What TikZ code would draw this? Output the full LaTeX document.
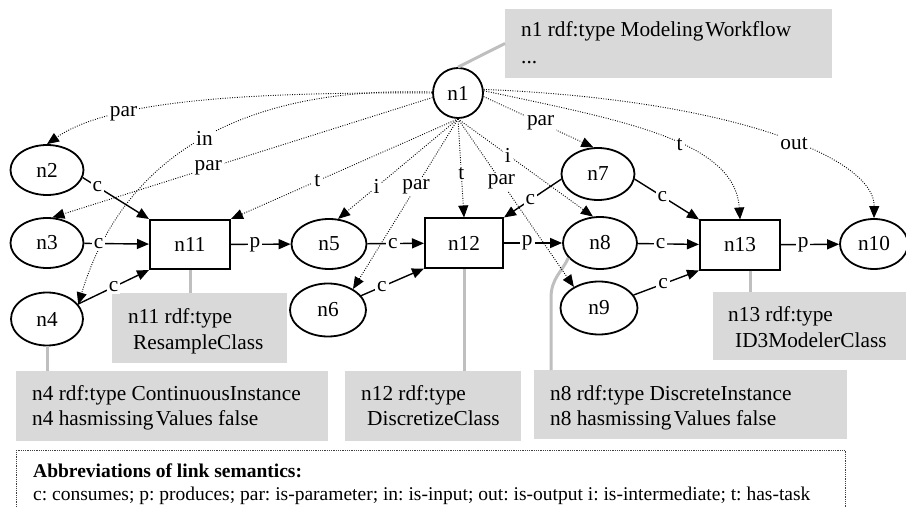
\documentclass[tikz,border=0pt]{standalone}
\usepackage{fontspec}
\setmainfont{Liberation Serif}
\usetikzlibrary{arrows.meta,shapes.geometric}
\frenchspacing

\begin{document}
\begin{tikzpicture}[x=1pt,y=-1pt,
  font=\fontsize{21.3}{26}\selectfont,
  ell/.style={ellipse, draw, line width=1.8pt, inner sep=0pt,
    minimum width=73pt, minimum height=50pt},
  task/.style={rectangle, draw, line width=2pt, inner sep=0pt,
    minimum width=80pt, minimum height=49pt},
  gbox/.style={fill=black!15, inner sep=0pt, outer sep=0pt, anchor=north west},
  gtext/.style={anchor=base west, inner sep=0pt},
  glink/.style={draw=black!25, line width=3pt},
  tip/.style={-{Triangle[length=12pt,width=10pt]}},
  flow/.style={tip, line width=1.4pt},
  sem/.style={tip, line width=0.9pt, dash pattern=on 0.9pt off 1.5pt},
  lbl/.style={fill=white, inner sep=2pt},
  legendfont/.style={font=\fontsize{19.5}{24}\selectfont}]

\useasboundingbox (0,0) rectangle (906,508);
\clip (0,0) rectangle (906,508);

% annotation boxes
\node[gbox, minimum width=327pt, minimum height=69pt] (b1) at (505,9) {};
\node[gbox, minimum width=175pt, minimum height=70pt] (b11) at (112,293) {};
\node[gbox, minimum width=312pt, minimum height=70pt] (b4) at (16,371) {};
\node[gbox, minimum width=176pt, minimum height=70pt] (b12) at (345,371) {};
\node[gbox, minimum width=313pt, minimum height=69pt] (b8) at (534,370) {};
\node[gbox, minimum width=200pt, minimum height=68pt] (b13) at (713,292) {};

\node[gtext] (t1a) at (521,37) {n1 rdf:type Modeling\kern2pt Workflow};
\node[gtext] (t1b) at (521,64) {...};
\node[gtext] (t11a) at (128,323) {n11 rdf:type};
\node[gtext] (t11b) at (133,349) {ResampleClass};
\node[gtext] (t4a) at (32,400) {n4 rdf:type ContinuousInstance};
\node[gtext] (t4b) at (32,425) {n4 hasmissing\kern2.5pt Values false};
\node[gtext] (t12a) at (361,400) {n12 rdf:type};
\node[gtext] (t12b) at (367,425) {DiscretizeClass};
\node[gtext] (t8a) at (550,400) {n8 rdf:type DiscreteInstance};
\node[gtext] (t8b) at (550,425) {n8 hasmissing\kern2.5pt Values false};
\node[gtext] (t13a) at (728,321) {n13 rdf:type};
\node[gtext] (t13b) at (735,347) {ID3ModelerClass};

% legend
\node[draw=black!75, line width=0.8pt, dash pattern=on 0.8pt off 1pt,
  anchor=north west, inner sep=0pt, minimum width=829pt, minimum height=90pt]
  (legend) at (16,450) {};
\node[gtext, legendfont] (lh) at (33,477) {\bfseries Abbreviations of link semantics:};
\node[gtext, legendfont] (lt) at (33,500)
  {c: consumes; p: produces; par: is-parameter; in: is-input; out: is-output i: is-intermediate; t: has-task};

% graph nodes
\node[ell, minimum width=50pt, minimum height=50pt] (n1) at (458,93) {n1};
\node[ell] (n2) at (47,170) {n2};
\node[ell] (n3) at (47,243) {n3};
\node[ell, minimum width=72pt, minimum height=53pt] (n4) at (47,319) {n4};
\node[task] (n11) at (190,244.5) {n11};
\node[ell, minimum width=75pt] (n5) at (329,244) {n5};
\node[ell, minimum width=76pt, minimum height=53pt] (n6) at (328,310) {n6};
\node[task, minimum width=78pt] (n12) at (464,243) {n12};
\node[ell, minimum height=52pt] (n7) at (598,174) {n7};
\node[ell, minimum width=74pt, minimum height=52pt] (n8) at (600,243) {n8};
\node[ell, minimum width=77pt, minimum height=53pt] (n9) at (599,308) {n9};
\node[task] (n13) at (740,245) {n13};
\node[ell, minimum width=68pt] (n10) at (874,244) {n10};

% annotation links
\draw[glink] (b1.west) -- (n1.north);
\draw[glink] (n11.south) -- (n11.south |- b11.north);
\draw[glink] (n4.south) -- (n4.south |- b4.north);
\draw[glink] (n12.south) -- (n12.south |- b12.north);
\draw[glink] ([xshift=10pt]n13.south) -- ([xshift=10pt]n13.south |- b13.north);
\coordinate (l8) at ([xshift=17pt]b8.north west);
\draw[glink] (l8) -- ++(0,-72) .. controls +(0,-20) and +(-6,14) .. (n8.205);

% semantic links from the workflow node
\draw[sem] (n1.180) .. controls (250,92) and (110,100) .. (n2.north)
  node[lbl, pos=0.7] (s2) {par};
\draw[sem] (n1.178) .. controls (250,86) and (125,150) .. (n4.25)
  node[lbl, pos=0.5] (s4) {in};
\draw[sem] (n1.190) -- (n3.78) node[lbl, pos=0.59] (s3) {par};
\draw[sem] (n1.south) -- (n11.north east) node[lbl, pos=0.62] (s11) {t};
\draw[sem] (n1.south) -- (n5.70) node[lbl, pos=0.68] (s5) {i};
\draw[sem] (n1.south) -- (n6.40) node[lbl, pos=0.4] (s6) {par};
\draw[sem] (n1.south) -- (n12.north) node[lbl, pos=0.55] (s12) {t};
\draw[sem] (n1.south) -- (n9.140) node[lbl, pos=0.375] (s9) {par};
\draw[sem] (n1.south) -- (n8.105) node[lbl, pos=0.37] (s8) {i};
\draw[sem] (n1.-8) -- (n7.100) node[lbl, pos=0.52] (s7) {par};
\draw[sem] (n1.5) .. controls (620,120) and (735,140) .. (n13.north)
  node[lbl, pos=0.57] (s13) {t};
\draw[sem] (n1.8) .. controls (740,100) and (875,160) .. (n10.north)
  node[lbl, pos=0.55] (s10) {out};

% data flow
\draw[flow] (n2.-12) -- (n11.north west) node[lbl, pos=0.22] (f1) {c};
\draw[flow] (n3) -- (n11) node[lbl, pos=0.22] (f2) {c};
\draw[flow] (n4) -- (n11.south west) node[lbl, pos=0.5] (f3) {c};
\draw[flow] (n11) -- (n5) node[lbl, pos=0.4] (f4) {p};
\draw[flow] (n5) -- (n12) node[lbl, pos=0.45] (f5) {c};
\draw[flow] (n6) -- (n12.south west) node[lbl, pos=0.33] (f6) {c};
\draw[flow] (n12) -- (n8) node[lbl, pos=0.4] (f7) {p};
\draw[flow] (n7.188) -- (n12.north east) node[lbl, pos=0.54] (f8) {c};
\draw[flow] (n7.-8) -- (n13.north west) node[lbl, pos=0.43] (f9) {c};
\draw[flow] (n8) -- (n13) node[lbl, pos=0.37] (f10) {c};
\draw[flow] (n9) -- (n13.south west) node[lbl, pos=0.45] (f11) {c};
\draw[flow] (n13) -- (n10) node[lbl, pos=0.38] (f12) {p};
\end{tikzpicture}
\end{document}
